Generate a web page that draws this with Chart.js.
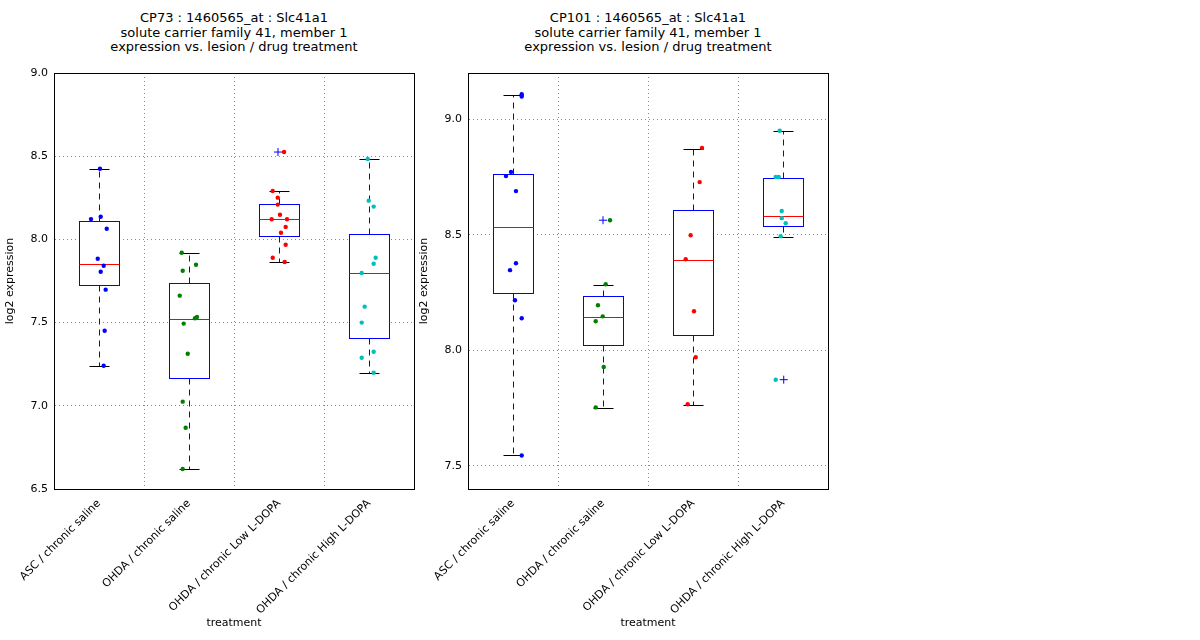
<!DOCTYPE html>
<html><head><meta charset="utf-8">
<script src="https://cdn.jsdelivr.net/npm/chart.js@4"></script>
<style>
body{margin:0;background:#fff;font-family:"DejaVu Sans",sans-serif;}
.t{position:absolute;top:11px;width:430px;text-align:center;font-size:13px;line-height:14.5px;color:#000;}
canvas{position:absolute;top:0;}
</style></head><body>
<div class="t" style="left:19px">CP73 : 1460565_at : Slc41a1<br>solute carrier family 41, member 1<br>expression vs. lesion / drug treatment</div>
<div class="t" style="left:433px">CP101 : 1460565_at : Slc41a1<br>solute carrier family 41, member 1<br>expression vs. lesion / drug treatment</div>
<div style="position:absolute;left:0;top:0;width:430px;height:640px"><canvas id="c1"></canvas></div>
<div style="position:absolute;left:414px;top:0;width:430px;height:640px"><canvas id="c2"></canvas></div>
<script>
const categories = ["ASC / chronic saline","OHDA / chronic saline","OHDA / chronic Low L-DOPA","OHDA / chronic High L-DOPA"];
const colors = ["#0000ff","#008000","#ff0000","#00bfbf"];

// CP73
const cp73Values = [
  [8.425,8.136,8.122,8.064,7.884,7.842,7.806,7.698,7.451,7.241],
  [7.920,7.848,7.812,7.662,7.534,7.526,7.494,7.313,7.025,6.868,6.620],
  [8.525,8.291,8.251,8.209,8.148,8.121,8.121,8.075,8.040,7.968,7.890,7.864],
  [8.483,8.233,8.197,7.890,7.854,7.798,7.596,7.500,7.325,7.289,7.199]
];
const cp73Jitter = [
  [1.011,1.019,0.911,1.086,0.986,1.052,1.019,1.074,1.063,1.052],
  [1.919,2.078,1.93,1.897,2.089,2.067,1.941,1.986,1.93,1.963,1.93],
  [3.056,2.93,2.986,2.986,3.011,2.919,3.089,3.074,3.022,3.074,2.93,3.063],
  [3.986,3.997,4.052,4.074,4.052,3.919,3.952,3.919,4.052,3.919,4.052]
];
const cp73Q1 = [7.724,7.165,8.019,7.406];
const cp73Median = [7.855,7.520,8.121,7.796];
const cp73Q3 = [8.108,7.736,8.211,8.035];
const cp73Low = [7.241,6.620,7.864,7.195];
const cp73High = [8.425,7.920,8.291,8.483];
const cp73Outliers = [{x:2.989,y:8.525}];

// CP101
const cp101Values = [
  [9.108,9.098,8.772,8.754,8.689,8.377,8.347,8.217,8.139,7.545],
  [8.563,8.286,8.195,8.147,8.126,7.928,7.753],
  [8.876,8.728,8.498,8.394,8.169,7.970,7.767],
  [8.950,8.750,8.750,8.603,8.572,8.550,8.494,7.873]
];
const cp101Jitter = [
  [1.097,1.097,0.978,0.922,1.033,1.033,0.967,1.022,1.097,1.097],
  [2.078,2.03,1.944,1.997,1.919,2.008,1.919],
  [3.1,3.074,2.974,2.919,3.011,3.03,2.941],
  [3.963,3.919,3.952,3.986,3.986,4.03,3.974,3.919]
];
const cp101Q1 = [8.250,8.023,8.067,8.536];
const cp101Median = [8.532,8.145,8.392,8.583];
const cp101Q3 = [8.763,8.234,8.608,8.747];
const cp101Low = [7.545,7.750,7.765,8.490];
const cp101High = [9.105,8.284,8.873,8.948];
const cp101Outliers = [{x:2.0,y:8.563},{x:4.008,y:7.873}];

const r = v => Math.round(v) + 0.5;

const boxPlugin = {
  id: "boxes",
  beforeDatasetsDraw(chart) {
    const b = chart.options.plugins.boxes;
    const xs = chart.scales.x, ys = chart.scales.y, ctx = chart.ctx;
    const area = chart.chartArea;
    ctx.save();
    ctx.strokeStyle = "#888"; ctx.lineWidth = 1; ctx.setLineDash([1,3]);
    [1.5,2.5,3.5].forEach(v => {
      const px = r(xs.getPixelForValue(v));
      ctx.beginPath(); ctx.moveTo(px, area.top); ctx.lineTo(px, area.bottom); ctx.stroke();
    });
    for (let i = 0; i < 4; i++) {
      const c = i + 1;
      const xl = r(xs.getPixelForValue(c - 0.222)), xr = r(xs.getPixelForValue(c + 0.222));
      const xc = r(xs.getPixelForValue(c));
      const cl = r(xs.getPixelForValue(c - 0.111)), cr = r(xs.getPixelForValue(c + 0.111));
      const yq1 = r(ys.getPixelForValue(b.q1[i])), yq3 = r(ys.getPixelForValue(b.q3[i]));
      const ym = r(ys.getPixelForValue(b.median[i]));
      const ylo = r(ys.getPixelForValue(b.low[i])), yhi = r(ys.getPixelForValue(b.high[i]));
      ctx.lineWidth = 1;
      ctx.strokeStyle = "#0000ff"; ctx.setLineDash([6,5]);
      ctx.beginPath(); ctx.moveTo(xc, yq3); ctx.lineTo(xc, yhi); ctx.moveTo(xc, yq1); ctx.lineTo(xc, ylo); ctx.stroke();
      ctx.setLineDash([]);
      ctx.strokeStyle = "#000";
      ctx.beginPath(); ctx.moveTo(cl, yhi); ctx.lineTo(cr, yhi); ctx.moveTo(cl, ylo); ctx.lineTo(cr, ylo); ctx.stroke();
      ctx.fillStyle = "#fff"; ctx.fillRect(xl, yq3, xr - xl, yq1 - yq3);
      ctx.strokeStyle = "#0000ff"; ctx.strokeRect(xl, yq3, xr - xl, yq1 - yq3);
      ctx.strokeStyle = "#ff0000";
      ctx.beginPath(); ctx.moveTo(xl, ym); ctx.lineTo(xr, ym); ctx.stroke();
    }
    ctx.restore();
  },
  afterDraw(chart) {
    const a = chart.chartArea, ctx = chart.ctx;
    ctx.save(); ctx.strokeStyle = "#000"; ctx.lineWidth = 1;
    ctx.strokeRect(r(a.left), r(a.top), Math.round(a.right - a.left), Math.round(a.bottom - a.top));
    ctx.restore();
  }
};

function makeChart(id, values, jitter, q1, median, q3, low, high, outliers, ymin, ymax, step) {
  const datasets = values.map((vals, g) => ({
    data: vals.map((v, k) => ({x: jitter[g][k], y: v})),
    backgroundColor: colors[g], borderColor: colors[g], pointRadius: 2.2, pointBorderWidth: 0
  }));
  datasets.push({data: outliers, pointStyle: "cross", pointRadius: 4, borderColor: "#0000ff", borderWidth: 1});
  new Chart(document.getElementById(id), {
    type: "scatter",
    data: {datasets},
    plugins: [boxPlugin],
    options: {
      responsive: true, maintainAspectRatio: false, animation: false,
      layout: {padding: {top: 73, right: 16, bottom: 10}},
      plugins: {legend: {display: false}, tooltip: {enabled: false},
        boxes: {q1, median, q3, low, high}},
      scales: {
        x: {
          type: "linear", min: 0.5, max: 4.5,
          afterBuildTicks: s => { s.ticks = [1,2,3,4].map(v => ({value: v})); },
          afterFit: s => { s.height = 141; },
          grid: {display: false},
          border: {color: "#000"},
          ticks: {minRotation: 45, maxRotation: 45, padding: 0, color: "#000", font: {size: 11, family: "DejaVu Sans"},
            callback: v => categories[v - 1]},
          title: {display: true, text: "treatment", color: "#000", padding: 0, font: {size: 11, family: "DejaVu Sans"}}
        },
        y: {
          min: ymin, max: ymax,
          afterBuildTicks: s => { const t = []; for (let v = Math.ceil(ymin / step) * step; v <= ymax + 1e-9; v += step) t.push({value: +v.toFixed(2)}); s.ticks = t; },
          afterFit: s => { s.width = 54; },
          grid: {color: "#888", drawTicks: false},
          border: {color: "#000", dash: [1,3]},
          ticks: {color: "#000", padding: 6, font: {size: 11, family: "DejaVu Sans"}, callback: v => v.toFixed(1)},
          title: {display: true, text: "log2 expression", color: "#000", font: {size: 11, family: "DejaVu Sans"}}
        }
      }
    }
  });
}

makeChart("c1", cp73Values, cp73Jitter, cp73Q1, cp73Median, cp73Q3, cp73Low, cp73High, cp73Outliers, 6.5, 9.0, 0.5);
makeChart("c2", cp101Values, cp101Jitter, cp101Q1, cp101Median, cp101Q3, cp101Low, cp101High, cp101Outliers, 7.4, 9.2, 0.5);
</script>
</body></html>
